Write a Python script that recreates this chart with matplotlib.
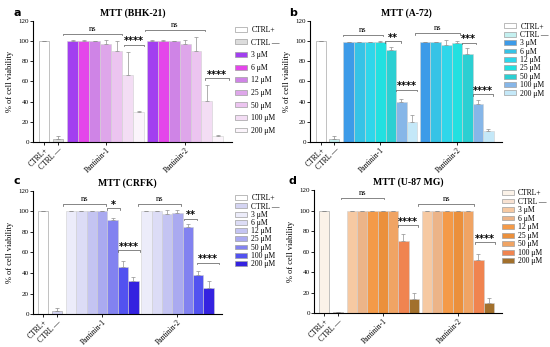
import numpy as np
import matplotlib.pyplot as plt
from matplotlib.patches import Patch

plt.rcParams['font.family'] = ['Liberation Serif', 'DejaVu Serif']

labels = ["CTRL+", "CTRL \u2014", "3 \u03bcM", "6 \u03bcM", "12 \u03bcM", "25 \u03bcM",
          "50 \u03bcM", "100 \u03bcM", "200 \u03bcM"]
groups = ["CTRL+", "CTRL \u2014", "Pantinin-1", "Pantinin-2"]

# viability values: [CTRL+, CTRL-], Pantinin-1 (7 conc), Pantinin-2 (7 conc)
titles = ["MTT (BHK-21)", "MTT (A-72)", "MTT (CRFK)", "MTT (U-87 MG)"]
letters = ["a", "b", "c", "d"]

ctrl_a = [100, 3];   ctrl_a_err = [0, 3]
p1_a = [100, 100, 100, 97, 90, 66, 30];  p1_a_err = [0.5, 0.5, 0, 4, 10, 23, 0.5]
p2_a = [100, 100, 100, 97, 90, 41, 6];   p2_a_err = [0.5, 0.5, 0, 4, 14, 15, 1]

ctrl_b = [100, 3];   ctrl_b_err = [0, 3]
p1_b = [99, 99, 99, 99, 91, 40, 20];     p1_b_err = [0.5, 0.5, 0.5, 1, 3, 3, 7]
p2_b = [99, 99, 96, 98, 87, 38, 11];     p2_b_err = [0.5, 0.5, 5, 2, 6, 4, 2]

ctrl_c = [100, 3];   ctrl_c_err = [0, 3]
p1_c = [100, 100, 100, 100, 92, 46, 32]; p1_c_err = [0.5, 0, 0, 0.5, 2, 6, 4]
p2_c = [100, 100, 97, 98, 85, 38, 25];   p2_c_err = [0.5, 0.5, 4, 3, 3, 4, 7]

ctrl_d = [100, 0.5]; ctrl_d_err = [0, 0.5]
p1_d = [100, 100, 100, 99.5, 99.5, 70, 14]; p1_d_err = [0, 0, 0, 0.5, 0.5, 7, 6]
p2_d = [100, 100, 100, 99.5, 99.5, 52, 10]; p2_d_err = [0, 0, 0, 0.5, 0.5, 6, 5]

colors_a = ["#ffffff", "#dcdcdc", "#a23ff0", "#e446ea", "#cf84e6", "#dea6ea", "#ecc4f0", "#f3ddf4", "#fbf4fb"]
colors_b = ["#ffffff", "#c4f0f0", "#3d9be8", "#36c3e6", "#2fd6ea", "#22e0e0", "#2ccfd2", "#86b6e8", "#c4e8f8"]
colors_c = ["#ffffff", "#d4d4f2", "#ececfa", "#dcdcf6", "#c4c4f2", "#aaaaf0", "#8282f0", "#5252f0", "#3422e0"]
colors_d = ["#fbf2e8", "#f8e2d2", "#f6c9a2", "#ecb488", "#f49a48", "#eb903c", "#f0a464", "#f08450", "#a2702c"]

# significance brackets: (group 1/2, start, end relative to group start, y, text)
sig_a = [(1, -0.45, 5.0, 107, "ns"), (1, 5.15, 7.0, 96.5, "****"),
         (2, -0.15, 5.3, 111, "ns"), (2, 5.3, 7.5, 63, "****")]
sig_b = [(1, -0.05, 3.75, 106, "ns"), (1, 3.95, 5.5, 100, "**"), (1, 5.0, 7.0, 51.5, "****"),
         (2, -0.45, 3.8, 107.5, "ns"), (2, 3.95, 5.3, 98.5, "***"), (2, 5.0, 6.95, 47.5, "****")]
sig_c = [(1, -0.25, 3.9, 107, "ns"), (1, 4.0, 5.2, 103, "*"), (1, 5.05, 7.1, 62, "****"),
         (2, -0.3, 3.85, 107, "ns"), (2, 4.1, 5.4, 93, "**"), (2, 5.35, 7.5, 50, "****")]
sig_d = [(1, -0.55, 3.6, 112.5, "ns"), (1, 5.0, 6.9, 85.5, "****"),
         (2, -0.3, 5.1, 106, "ns"), (2, 5.2, 7.1, 69, "****")]

panels = [
    (ctrl_a, ctrl_a_err, p1_a, p1_a_err, p2_a, p2_a_err, colors_a, sig_a),
    (ctrl_b, ctrl_b_err, p1_b, p1_b_err, p2_b, p2_b_err, colors_b, sig_b),
    (ctrl_c, ctrl_c_err, p1_c, p1_c_err, p2_c, p2_c_err, colors_c, sig_c),
    (ctrl_d, ctrl_d_err, p1_d, p1_d_err, p2_d, p2_d_err, colors_d, sig_d),
]

axes_rects = [[0.060, 0.591, 0.362, 0.349],
              [0.564, 0.591, 0.349, 0.349],
              [0.060, 0.095, 0.344, 0.355],
              [0.571, 0.098, 0.342, 0.354]]
legend_pos = [(0.428, 0.925), (0.917, 0.935), (0.428, 0.44), (0.913, 0.455)]
legend_space = [0.6, 0.05, 0.03, 0.07]
letter_pos = [(0.025, 0.955), (0.525, 0.955), (0.025, 0.47), (0.525, 0.47)]

fig = plt.figure(figsize=(5.5, 3.47), dpi=100)

ctrl_x = [1.0, 2.3]
g1 = 3.15
g2 = 10.4
for k, (ctrl, ctrl_err, p1, p1_err, p2, p2_err, cols, sig) in enumerate(panels):
    ax = fig.add_axes(axes_rects[k])
    edge = "#a8a8a8"
    ax.bar(ctrl_x, ctrl, width=0.95, color=cols[:2], edgecolor=edge, linewidth=0.5,
           yerr=[[0, 0], ctrl_err], error_kw=dict(ecolor="#888888", elinewidth=0.5, capsize=1.5, capthick=0.5))
    x1 = g1 + 0.5 + np.arange(7)
    x2 = g2 + 0.5 + np.arange(7)
    for xs, vals, errs in [(x1, p1, p1_err), (x2, p2, p2_err)]:
        ax.bar(xs, vals, width=1.0, color=cols[2:], edgecolor="#d0d0d0", linewidth=0.4,
               yerr=[np.zeros(7), errs], error_kw=dict(ecolor="#909090", elinewidth=0.5, capsize=1.5, capthick=0.5))
    for g, a0, a1, yy, txt in sig:
        base = g1 if g == 1 else g2
        xa, xb = base + a0, base + a1
        ax.plot([xa, xa, xb, xb], [yy - 1.5, yy, yy, yy - 1.5], color="#555555", lw=0.5)
        if txt == "ns":
            ax.text((xa + xb) / 2, yy + 1.0, txt, ha="center", va="bottom", fontsize=6)
        else:
            ax.text((xa + xb) / 2, yy - 1.5, txt, ha="center", va="bottom", fontsize=7, fontweight="bold",
                    family=["DejaVu Sans"])
    ax.set_xlim(0, 18.2)
    ax.set_ylim(0, 120)
    ax.set_yticks(np.arange(0, 121, 20))
    ax.set_xticks([ctrl_x[0], ctrl_x[1], g1 + 3.5, g2 + 3.5])
    ax.set_xticklabels(groups, rotation=45, ha="right", rotation_mode="anchor", fontsize=5.5)
    ax.tick_params(axis="y", labelsize=5, length=2, width=0.6, pad=1)
    ax.tick_params(axis="x", length=2, width=0.6, pad=1)
    ax.spines["top"].set_visible(False)
    ax.spines["right"].set_visible(False)
    ax.spines["left"].set_linewidth(0.8)
    ax.spines["bottom"].set_linewidth(0.8)
    ax.set_ylabel("% of cell viability", fontsize=6, labelpad=3)
    ax.set_title(titles[k], fontsize=7, fontweight="bold", pad=4)
    handles = [Patch(facecolor=c, edgecolor="#a0a0a0", linewidth=0.5) for c in cols]
    fig.legend(handles, labels, loc="upper left", bbox_to_anchor=legend_pos[k], frameon=False,
               fontsize=5.5, handlelength=1.5, handleheight=0.6, labelspacing=legend_space[k],
               handletextpad=0.6, borderaxespad=0, borderpad=0)
    fig.text(letter_pos[k][0], letter_pos[k][1], letters[k], fontsize=8, fontweight="bold",
             family=["DejaVu Sans"])

fig.savefig("out.png", dpi=100)
